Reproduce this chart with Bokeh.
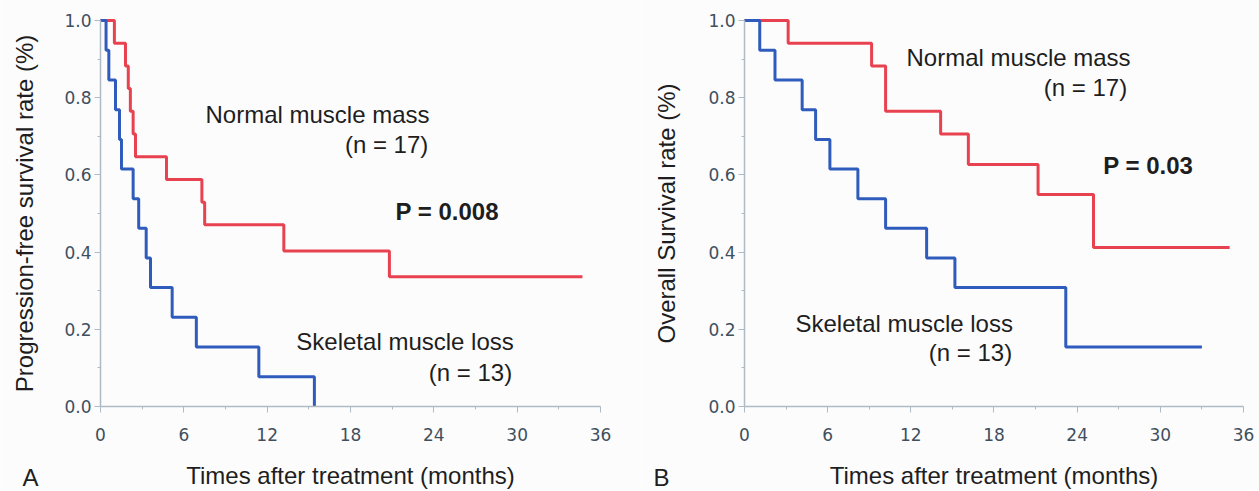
from bokeh.plotting import figure
from bokeh.layouts import row
from bokeh.models import Range1d, FixedTicker, PrintfTickFormatter, Label
from bokeh.embed import file_html
from bokeh.resources import INLINE

# ---------------- data ----------------
x_ticks = [0, 6, 12, 18, 24, 30, 36]
x_minor = [3, 9, 15, 21, 27, 33]
y_ticks = [0.0, 0.2, 0.4, 0.6, 0.8, 1.0]
y_minor = [0.1, 0.3, 0.5, 0.7, 0.9]

# Panel A: progression-free survival
pfs_normal_t = [0, 1.0, 1.8, 2.0, 2.15, 2.35, 2.52, 4.75, 7.3, 7.5, 13.2, 20.8, 34.7]
pfs_normal_s = [1.0, 0.941, 0.882, 0.824, 0.765, 0.706, 0.647, 0.588, 0.529, 0.471, 0.403, 0.336, 0.336]
pfs_loss_t = [0, 0.4, 0.6, 1.08, 1.37, 1.51, 2.35, 2.75, 3.29, 3.6, 5.16, 6.9, 11.4, 15.4]
pfs_loss_s = [1.0, 0.923, 0.846, 0.769, 0.692, 0.615, 0.538, 0.462, 0.385, 0.308, 0.231, 0.154, 0.077, 0.0]

# Panel B: overall survival
os_normal_t = [0, 3.15, 9.17, 10.18, 14.15, 16.15, 21.18, 25.18, 35.0]
os_normal_s = [1.0, 0.941, 0.882, 0.765, 0.706, 0.627, 0.549, 0.412, 0.412]
os_loss_t = [0, 1.1, 2.2, 4.16, 5.13, 6.16, 8.18, 10.18, 13.14, 15.18, 23.18, 33.0]
os_loss_s = [1.0, 0.923, 0.846, 0.769, 0.692, 0.615, 0.538, 0.462, 0.385, 0.308, 0.154, 0.154]

RED = "#e8414f"
BLUE = "#2f5cbc"
BG = "#fcfcfd"
AXC = "#aebac4"
FONT = "Liberation Sans"
TICKFONT = "DejaVu Sans"


def make_panel(width, x0, x1, ylabel, title_standoff):
    p = figure(width=width, height=490,
               x_range=Range1d(x0, x1), y_range=Range1d(-0.2176, 1.0518),
               output_backend="svg", toolbar_location=None,
               min_border=0, min_border_left=0, min_border_right=0,
               min_border_top=0, min_border_bottom=0)
    p.background_fill_color = BG
    p.border_fill_color = BG
    p.outline_line_color = None
    p.grid.visible = False

    xa = p.xaxis[0]
    xa.ticker = FixedTicker(ticks=x_ticks, minor_ticks=x_minor)
    xa.fixed_location = 0
    xa.bounds = (0, 36)
    ya = p.yaxis[0]
    ya.ticker = FixedTicker(ticks=y_ticks, minor_ticks=y_minor)
    ya.formatter = PrintfTickFormatter(format="%.1f")
    ya.fixed_location = 0
    ya.bounds = (0, 1)

    for ax in (xa, ya):
        ax.axis_line_color = AXC
        ax.axis_line_width = 1.5
        ax.major_tick_line_color = AXC
        ax.minor_tick_line_color = AXC
        ax.major_tick_out = 6
        ax.major_tick_in = 0
        ax.minor_tick_out = 3
        ax.minor_tick_in = 0
        ax.major_label_text_font = TICKFONT
        ax.major_label_text_font_size = "17px"
        ax.major_label_text_color = "#3f4f5c"
        ax.axis_label_text_font = FONT
        ax.axis_label_text_font_size = "24px"
        ax.axis_label_text_font_style = "normal"
        ax.axis_label_text_color = "#1e1e1e"

    xa.axis_label = "Times after treatment (months)"
    xa.major_label_standoff = 15
    xa.axis_label_standoff = 18
    ya.axis_label = ylabel
    ya.major_label_standoff = 3
    ya.axis_label_standoff = title_standoff
    return p


def add_text(p, x, y, txt, align="left", bold=False):
    p.add_layout(Label(x=x, y=y, text=txt, text_align=align,
                       text_baseline="alphabetic", text_font=FONT,
                       text_font_size="24px",
                       text_font_style="bold" if bold else "normal",
                       text_color="#1e1e1e"))


# ---------------- panel A ----------------
pA = make_panel(640, -7.2, 38.88, "Progression-free survival rate (%)", 23)
pA.step(pfs_normal_t, pfs_normal_s, mode="after", line_color=RED, line_width=3)
pA.step(pfs_loss_t, pfs_loss_s, mode="after", line_color=BLUE, line_width=3)
add_text(pA, 7.56, 0.757, "Normal muscle mass")
add_text(pA, 23.6, 0.680, "(n = 17)", align="right")
add_text(pA, 21.24, 0.505, "P = 0.008", bold=True)
add_text(pA, 14.1, 0.168, "Skeletal muscle loss")
add_text(pA, 29.64, 0.088, "(n = 13)", align="right")
add_text(pA, -5.62, -0.184, "A")

# ---------------- panel B ----------------
pB = make_panel(619, -7.503, 37.155, "Overall Survival rate (%)", 25)
pB.step(os_normal_t, os_normal_s, mode="after", line_color=RED, line_width=3)
pB.step(os_loss_t, os_loss_s, mode="after", line_color=BLUE, line_width=3)
add_text(pB, 11.69, 0.904, "Normal muscle mass")
add_text(pB, 27.61, 0.827, "(n = 17)", align="right")
add_text(pB, 25.88, 0.625, "P = 0.03", bold=True)
add_text(pB, 3.68, 0.214, "Skeletal muscle loss")
add_text(pB, 19.31, 0.140, "(n = 13)", align="right")
add_text(pB, -6.57, -0.184, "B")

layout = row(pA, pB)
open("out.html", "w").write(file_html(layout, INLINE))
